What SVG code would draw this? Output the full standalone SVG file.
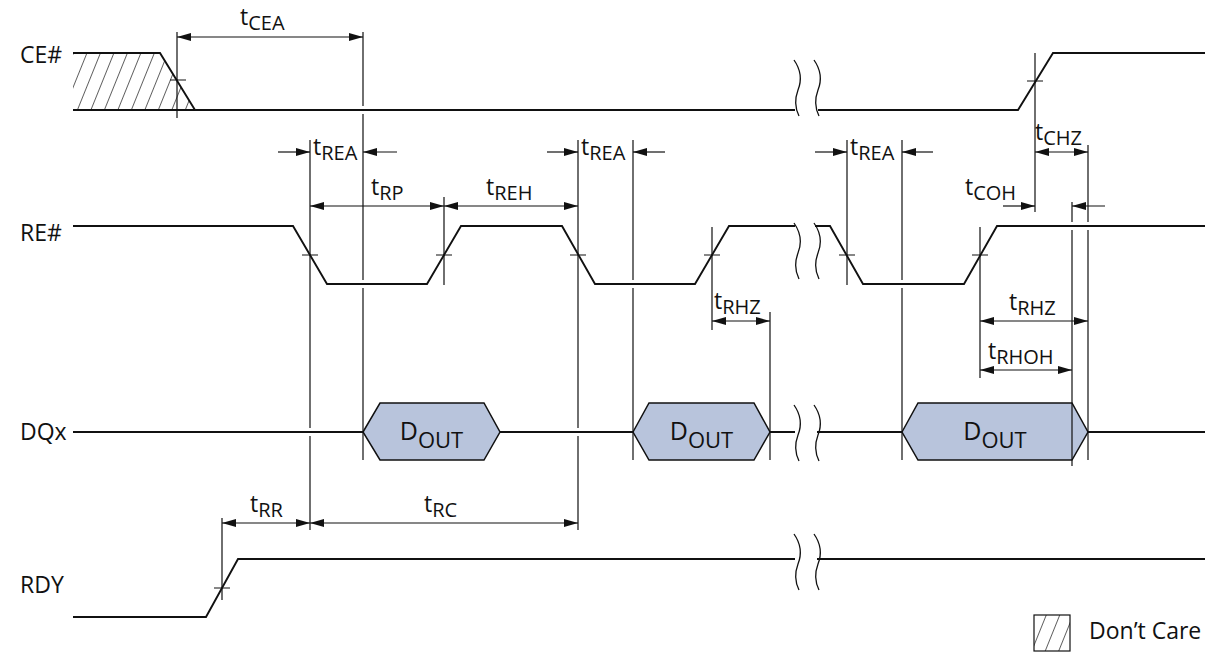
<svg xmlns="http://www.w3.org/2000/svg" width="1213" height="653" viewBox="0 0 1213 653">
<style>
.sig{fill:none;stroke:#111;stroke-width:1.9;stroke-linejoin:miter}
.tl{fill:none;stroke:#111;stroke-width:1.2}
.brk{fill:none;stroke:#111;stroke-width:1.3}
.dout{fill:#b8c4dc;stroke:#111;stroke-width:1.5}
.lbl{font-family:"Open Sans","Noto Sans",sans-serif;font-size:23px;fill:#111}
.tm{font-family:"Open Sans","Noto Sans",sans-serif;font-size:23px;fill:#111}
.sub{font-size:20px}
.dt{font-family:"Open Sans","Noto Sans",sans-serif;font-size:25px;fill:#111}
</style>
<defs>
<marker id="ah" viewBox="0 0 14 8" refX="14" refY="4" markerWidth="14" markerHeight="8" markerUnits="userSpaceOnUse" orient="auto-start-reverse">
<path d="M0,0 L14,4 L0,8 z" fill="#111"/>
</marker>
<pattern id="hatch" patternUnits="userSpaceOnUse" width="12.5" height="12.5" patternTransform="rotate(22)">
<line x1="0" y1="-2" x2="0" y2="15" stroke="#111" stroke-width="1.3"/>
</pattern>
<clipPath id="ceclip"><polygon points="73,53 160,53 195,110 73,110"/></clipPath>
</defs>

<g id="labels">
<text class="lbl" x="20" y="63">CE#</text>
<text class="lbl" x="20" y="241">RE#</text>
<text class="lbl" x="20" y="440">DQx</text>
<text class="lbl" x="20" y="593">RDY</text>
</g>

<g id="ce">
<rect x="73" y="53" width="125" height="57" fill="url(#hatch)" clip-path="url(#ceclip)"/>
<path class="sig" d="M73,53 H160 L195,110 M73,110 H795 M818,110 H1018 L1053,53 H1205"/>
</g>

<g id="re">
<path class="sig" d="M73,226 H293 L327,284 H427 L461,226 H562 L595,284 H695 L729,226 H795 M815,226 H830 L863,284 H964 L997,226 H1205"/>
</g>

<g id="dq">
<path class="sig" d="M73,432 H363 M500,432 H633 M770,432 H795 M817,432 H902 M1088,432 H1205"/>
<g id="dout1">
<polygon class="dout" points="363,432 380,403 484,403 500,432 484,460 380,460"/>
<text class="dt" x="431.5" y="440" text-anchor="middle">D<tspan dy="8" font-size="22">OUT</tspan></text>
</g>
<g id="dout2">
<polygon class="dout" points="633,432 649,403 754,403 770,432 754,460 649,460"/>
<text class="dt" x="701.5" y="440" text-anchor="middle">D<tspan dy="8" font-size="22">OUT</tspan></text>
</g>
<g id="dout3">
<polygon class="dout" points="902,432 918,403 1072,403 1088,432 1072,460 918,460"/>
<text class="dt" x="995" y="440" text-anchor="middle">D<tspan dy="8" font-size="22">OUT</tspan></text>
</g>
</g>

<g id="rdy">
<path class="sig" d="M73,617 H206 L238,559 H795 M817,559 H1205"/>
</g>

<g id="breaks">
<path class="brk" d="M794,60 C801,70 802,80 798,90 C795,98 795,108 799,116 M814,60 C821,70 822,80 818,90 C815,98 815,108 819,116"/>
<path class="brk" d="M794,223 C801,233 802,243 798,253 C795,261 795,271 799,279 M814,223 C821,233 822,243 818,253 C815,261 815,271 819,279"/>
<path class="brk" d="M794,405 C801,415 802,425 798,435 C795,443 795,453 799,461 M814,405 C821,415 822,425 818,435 C815,443 815,453 819,461"/>
<path class="brk" d="M794,534 C801,544 802,554 798,564 C795,572 795,582 799,590 M814,534 C821,544 822,554 818,564 C815,572 815,582 819,590"/>
</g>

<g id="connectors">
<path class="tl" d="M177,32 V118 M363,32 V106 M363,114 V280 M363,288 V460 M310,140 V428 M310,436 V530 M444,197 V285 M578,140 V428 M578,436 V530 M633,140 V280 M633,288 V460 M712,227 V330 M770,312 V460 M847,140 V285 M902,140 V280 M902,288 V460 M980,227 V378 M1035,53 V212 M1072,202 V222 M1072,230 V466 M1088,145 V222 M1088,230 V460 M222,518 V600"/>
<path class="tl" d="M170,80 H186 M1027,81 H1043 M302,255 H318 M436,255 H452 M570,255 H586 M704,255 H720 M839,255 H855 M972,255 H988 M214,588 H230"/>
<line class="tl" x1="177" y1="37" x2="363" y2="37" marker-start="url(#ah)" marker-end="url(#ah)"/>
<line class="tl" x1="278" y1="152" x2="310" y2="152" marker-end="url(#ah)"/>
<line class="tl" x1="397" y1="152" x2="363" y2="152" marker-end="url(#ah)"/>
<line class="tl" x1="310" y1="206" x2="444" y2="206" marker-start="url(#ah)" marker-end="url(#ah)"/>
<line class="tl" x1="444" y1="206" x2="578" y2="206" marker-start="url(#ah)" marker-end="url(#ah)"/>
<line class="tl" x1="547" y1="152" x2="578" y2="152" marker-end="url(#ah)"/>
<line class="tl" x1="665" y1="152" x2="633" y2="152" marker-end="url(#ah)"/>
<line class="tl" x1="815" y1="152" x2="847" y2="152" marker-end="url(#ah)"/>
<line class="tl" x1="933" y1="152" x2="902" y2="152" marker-end="url(#ah)"/>
<line class="tl" x1="1035" y1="152" x2="1088" y2="152" marker-start="url(#ah)" marker-end="url(#ah)"/>
<line class="tl" x1="1003" y1="206" x2="1035" y2="206" marker-end="url(#ah)"/>
<line class="tl" x1="1105" y1="206" x2="1072" y2="206" marker-end="url(#ah)"/>
<line class="tl" x1="712" y1="321" x2="770" y2="321" marker-start="url(#ah)" marker-end="url(#ah)"/>
<line class="tl" x1="980" y1="321" x2="1088" y2="321" marker-start="url(#ah)" marker-end="url(#ah)"/>
<line class="tl" x1="980" y1="370" x2="1072" y2="370" marker-start="url(#ah)" marker-end="url(#ah)"/>
<line class="tl" x1="222" y1="523" x2="310" y2="523" marker-start="url(#ah)" marker-end="url(#ah)"/>
<line class="tl" x1="310" y1="523" x2="578" y2="523" marker-start="url(#ah)" marker-end="url(#ah)"/>
</g>

<g id="timing-labels">
<text class="tm" x="240" y="25">t<tspan class="sub" dy="5">CEA</tspan></text>
<text class="tm" x="313" y="155">t<tspan class="sub" dy="5">REA</tspan></text>
<text class="tm" x="371" y="195">t<tspan class="sub" dy="5">RP</tspan></text>
<text class="tm" x="486" y="195">t<tspan class="sub" dy="5">REH</tspan></text>
<text class="tm" x="581" y="155">t<tspan class="sub" dy="5">REA</tspan></text>
<text class="tm" x="850" y="155">t<tspan class="sub" dy="5">REA</tspan></text>
<text class="tm" x="1035" y="140">t<tspan class="sub" dy="5">CHZ</tspan></text>
<text class="tm" x="965" y="195">t<tspan class="sub" dy="5">COH</tspan></text>
<text class="tm" x="714" y="309">t<tspan class="sub" dy="5">RHZ</tspan></text>
<text class="tm" x="1009" y="310">t<tspan class="sub" dy="5">RHZ</tspan></text>
<text class="tm" x="988" y="359">t<tspan class="sub" dy="5">RHOH</tspan></text>
<text class="tm" x="250" y="512">t<tspan class="sub" dy="5">RR</tspan></text>
<text class="tm" x="424" y="512">t<tspan class="sub" dy="5">RC</tspan></text>
</g>

<g id="legend">
<rect x="1034" y="615" width="36" height="36" fill="url(#hatch)" stroke="#111" stroke-width="1.2"/>
<text class="lbl" x="1089" y="639">Don’t Care</text>
</g>
</svg>
